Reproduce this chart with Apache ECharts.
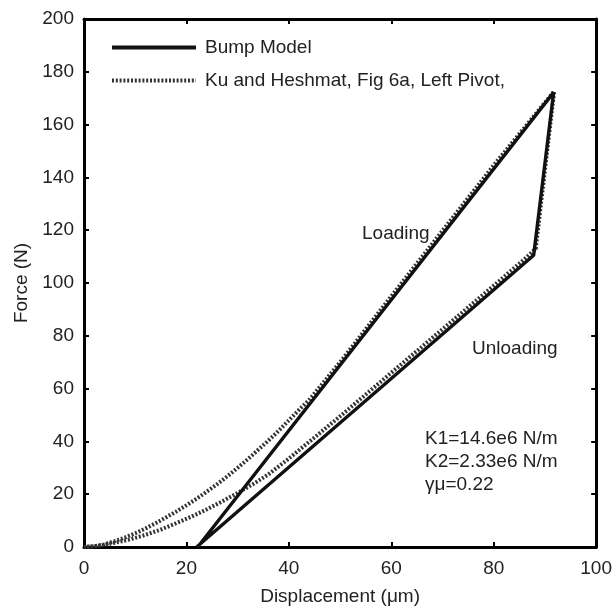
<!DOCTYPE html>
<html>
<head>
<meta charset="utf-8">
<script src="https://cdn.jsdelivr.net/npm/echarts@6/dist/echarts.min.js"></script>
<style>
  html, body { margin: 0; padding: 0; background: #fff; }
  #chart { width: 615px; height: 611px; }
</style>
</head>
<body>
<div id="chart"></div>
<script>
// Force–displacement hysteresis of the foil bump: model vs. measured loop
const xTicks = [0, 20, 40, 60, 80, 100];
const yTicks = [0, 20, 40, 60, 80, 100, 120, 140, 160, 180, 200];

// Bump model: straight loading branch, sharp turn at the peak, straight unloading
const bumpX = [22.2, 91.7, 87.8, 22.0];
const bumpY = [0, 172.2, 110.5, 0];

// Ku and Heshmat, Fig 6a, left pivot (loading then unloading)
const kuX = [0, 2, 4, 6, 8, 10, 12, 14, 16, 18, 20, 22, 24, 26, 28, 30, 32, 34, 36, 38, 40, 42, 44, 50, 60, 70, 80, 91.8,
             88.2, 86, 80, 70, 60, 50, 45, 40, 36, 33, 30, 27, 24, 21, 18, 15, 12, 9, 6, 3, 0];
const kuY = [0, 0.3, 1, 2.2, 3.6, 5.2, 7, 9, 11.2, 13.4, 15.8, 18.3, 21, 23.8, 26.8, 30, 33.3, 36.8, 40.3, 44, 48, 52, 55.8, 70, 95, 119.8, 144.6, 172.6,
             113, 109, 99, 82.5, 66, 49.5, 41.5, 33.5, 27.5, 23.8, 20.5, 17.3, 14.3, 11.5, 9, 6.6, 4.6, 2.9, 1.6, 0.5, 0];

const seriesNames = ['Bump Model', 'Ku and Heshmat, Fig 6a, Left Pivot,'];
const notes = ['K1=14.6e6 N/m', 'K2=2.33e6 N/m', 'γμ=0.22'];

const zip = (xs, ys) => xs.map((x, i) => [x, ys[i]]);
const FONT = 'Liberation Sans, Arial, sans-serif';
const DOTS = [2, 1.8];

const frameAxis = (extra) => Object.assign({
  min: 0,
  axisLine: { show: true, onZero: false, lineStyle: { color: '#000', width: 3 } },
  axisTick: { show: true, inside: true, length: 5, lineStyle: { color: '#000', width: 2 } },
  splitLine: { show: false },
  axisLabel: { show: false }
}, extra);

const chart = echarts.init(document.getElementById('chart'), null, { renderer: 'canvas' });

chart.setOption({
  animation: false,
  backgroundColor: '#fff',
  grid: { left: 84, right: 18, top: 19, bottom: 61 },
  xAxis: [
    frameAxis({
      type: 'value', position: 'bottom', max: 100, interval: 20,
      name: 'Displacement (μm)', nameLocation: 'middle', nameGap: 40,
      nameTextStyle: { fontFamily: FONT, fontSize: 19, color: '#222' },
      axisLabel: { show: true, margin: 12, fontFamily: FONT, fontSize: 19, color: '#222',
                   formatter: v => xTicks.includes(v) ? String(v) : '' }
    }),
    frameAxis({ type: 'value', position: 'top', max: 100, interval: 20 })
  ],
  yAxis: [
    frameAxis({
      type: 'value', position: 'left', max: 200, interval: 20,
      name: 'Force (N)', nameLocation: 'middle', nameGap: 47, nameRotate: 90,
      nameTextStyle: { fontFamily: FONT, fontSize: 19, color: '#222' },
      axisLabel: { show: true, margin: 10, fontFamily: FONT, fontSize: 19, color: '#222',
                   formatter: v => yTicks.includes(v) ? String(v) : '' }
    }),
    frameAxis({ type: 'value', position: 'right', max: 200, interval: 20 })
  ],
  legend: {
    orient: 'vertical',
    left: 110, top: 38, padding: 0,
    itemWidth: 84, itemHeight: 12, itemGap: 14,
    itemStyle: { opacity: 0 },
    textStyle: { fontFamily: FONT, fontSize: 19, color: '#222', padding: [0, 0, 0, 4] },
    data: [
      { name: seriesNames[0], lineStyle: { width: 4, type: 'solid', color: '#111' } },
      { name: seriesNames[1], lineStyle: { width: 4, type: DOTS, color: '#333' } }
    ]
  },
  series: [
    {
      name: seriesNames[0], type: 'line', data: zip(bumpX, bumpY),
      symbol: 'none', z: 3, itemStyle: { color: '#111' },
      lineStyle: { color: '#111', width: 3.4, type: 'solid' }
    },
    {
      name: seriesNames[1], type: 'line', data: zip(kuX, kuY),
      symbol: 'none', z: 2, itemStyle: { color: '#333' },
      lineStyle: { color: '#333', width: 4, type: DOTS }
    }
  ],
  graphic: [
    { type: 'text', left: 362, top: 224, style: { text: 'Loading', fontFamily: FONT, fontSize: 19, fill: '#222' } },
    { type: 'text', left: 472, top: 339, style: { text: 'Unloading', fontFamily: FONT, fontSize: 19, fill: '#222' } },
    { type: 'text', left: 425, top: 427, style: { text: notes.join('\n'), fontFamily: FONT, fontSize: 19, lineHeight: 23, fill: '#222' } }
  ]
});
</script>
</body>
</html>
